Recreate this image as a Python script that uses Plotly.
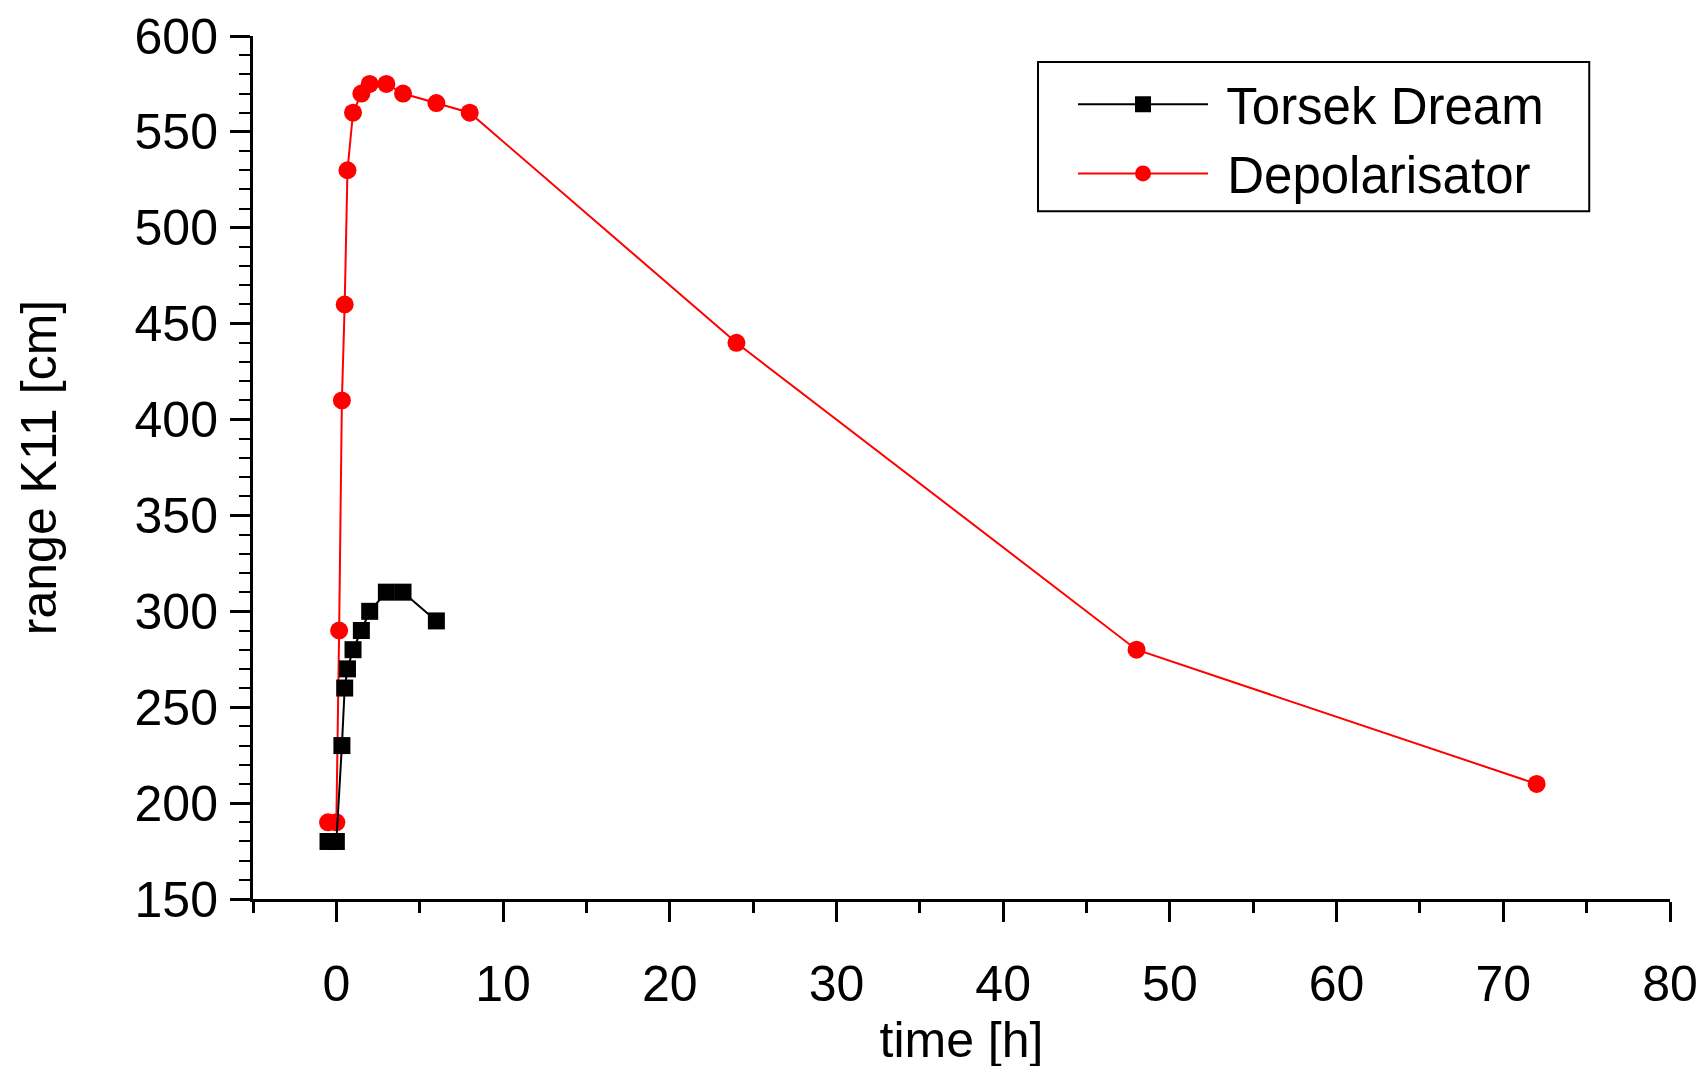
"""Range K11 over time: Torsek Dream vs Depolarisator."""
import plotly.graph_objects as go

# time in hours
torsek_time = [-0.5, 0, 0.333, 0.5, 0.667, 1, 1.5, 2, 3, 4, 6]
torsek_range = [180, 180, 230, 260, 270, 280, 290, 300, 310, 310, 295]

depol_time = [-0.5, 0, 0.167, 0.333, 0.5, 0.667, 1, 1.5, 2, 3, 4, 6, 8, 24, 48, 72]
depol_range = [190, 190, 290, 410, 460, 530, 560, 570, 575, 575, 570, 565, 560, 440, 280, 210]

FONT = dict(family="Liberation Sans, Arial, sans-serif", color="black", size=50)
LEGEND_FONT = dict(FONT, size=51)

fig = go.Figure()
fig.add_trace(go.Scatter(
    x=depol_time, y=depol_range, name=" Depolarisator", mode="lines+markers",
    line=dict(color="#FF0000", width=2),
    marker=dict(symbol="circle", size=18, color="#FF0000"),
    legendrank=2,
))
fig.add_trace(go.Scatter(
    x=torsek_time, y=torsek_range, name=" Torsek Dream", mode="lines+markers",
    line=dict(color="black", width=2),
    marker=dict(symbol="square", size=17, color="black"),
    legendrank=1,
))

axis_common = dict(
    showline=True, linecolor="black", linewidth=3,
    ticks="outside", ticklen=20, tickwidth=3, tickcolor="black",
    showgrid=False, zeroline=False, tickfont=FONT, mirror=False,
    automargin=False,
)

fig.update_xaxes(
    **axis_common, range=[-5, 80], tick0=0, dtick=10, ticklabelstandoff=19,
    minor=dict(ticks="outside", ticklen=11, tickwidth=3, tickcolor="black", dtick=5, tick0=0),
    title=dict(text="time [h]", font=FONT, standoff=7),
)
fig.update_yaxes(
    **axis_common, range=[150, 600], tick0=150, dtick=50, ticklabelstandoff=2,
    minor=dict(ticks="outside", ticklen=11, tickwidth=2, tickcolor="black", dtick=10, tick0=150),
    title=dict(text="range K11 [cm]", font=FONT, standoff=63),
)

# legend frame drawn separately so the sample lines sit inset like the original
fig.add_shape(
    type="rect", xref="paper", yref="paper",
    x0=0.554, x1=0.943, y0=0.797, y1=0.970,
    line=dict(color="black", width=2), fillcolor="white", layer="below",
)

fig.update_layout(
    width=1706, height=1066,
    paper_bgcolor="white", plot_bgcolor="white",
    margin=dict(l=245, r=44, t=28, b=175),
    font=FONT,
    showlegend=True,
    legend=dict(
        x=0.5787, y=0.967, xanchor="left", yanchor="top",
        borderwidth=0, bgcolor="rgba(0,0,0,0)",
        font=LEGEND_FONT, itemwidth=130, tracegroupgap=0,
    ),
)

fig.write_html("out.html")
